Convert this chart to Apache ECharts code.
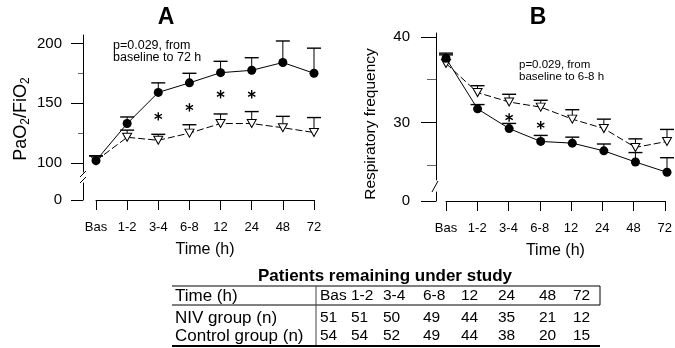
<!DOCTYPE html>
<html><head><meta charset="utf-8">
<script src="https://cdn.jsdelivr.net/npm/echarts@6/dist/echarts.min.js"></script>
<style>html,body{margin:0;padding:0;background:#fff}#c{width:675px;height:348px}</style>
</head><body><div id="c"></div>
<script>
// ---- data ----
const categories = ['Bas', '1-2', '3-4', '6-8', '12', '24', '48', '72'];
const pfNIV = [102, 133, 159, 167, 175.5, 177.5, 184, 175];
const pfNIVUpper = [106, 138.5, 167, 175, 185, 188, 202, 196];
const pfControl = [102, 121.5, 119, 125, 133, 133, 129.5, 125.5];
const pfControlUpper = [106, 127.5, 124, 132, 141, 143, 139, 138];
const pfStars = [null, null, 139, 146.5, 157.5, 157.5, null, null];
const rrNIV = [37.5, 31.6, 29.3, 27.8, 27.6, 26.7, 25.4, 24.2];
const rrNIVUpper = [38.1, 32.1, 29.9, 28.5, 28.3, 27.5, 26.5, 25.9];
const rrControl = [36.9, 33.5, 32.4, 31.8, 30.4, 29.3, 27.1, 27.8];
const rrControlUpper = [37.9, 34.3, 33.3, 32.6, 31.5, 30.4, 28.1, 29.2];
const rrStars = [null, null, 30.6, 29.7, null, null, null, null];
const pfTicks = [100, 150, 200];
const pfMinorTicks = [125, 175];
const rrTicks = [30, 40];
const rrMinorTicks = [25, 35];
const zeroTick = [0];
const titleA = 'A';
const titleB = 'B';
const xName = 'Time (h)';
const pfName = 'PaO{s|2}/FiO{s|2}';
const rrName = 'Respiratory frequency';
const noteA = ['p=0.029, from', 'baseline to 72 h'];
const noteB = ['p=0.029, from', 'baseline to 6-8 h'];
const tableTitle = 'Patients remaining under study';
const tableRowLabels = ['Time (h)', 'NIV group (n)', 'Control group (n)'];
const nivCounts = [51, 51, 50, 49, 44, 35, 21, 12];
const controlCounts = [54, 54, 52, 49, 44, 38, 20, 15];

// ---- layout ----
const FF = '"Liberation Sans", Arial, Helvetica, sans-serif';
const A = {left: 96, width: 218, top: 35, upH: 137, lowTop: 183, lowH: 17, yOff: 13, min: 92.5, max: 207, tick: 12, minor: 5, lblMargin: 21};
const B = {left: 446, width: 221, top: 33, upH: 147, lowTop: 192, lowH: 9, yOff: 10, min: 23.3, max: 40.45, tick: 15, minor: 9, lblMargin: 26};

const chart = echarts.init(document.getElementById('c'), null, {renderer: 'canvas'});

function errBar(params, api) {
  const x = api.value(0);
  const p0 = api.coord([x, api.value(1)]);
  const p1 = api.coord([x, api.value(2)]);
  const hw = 7;
  return {type: 'group', children: [
    {type: 'line', shape: {x1: p0[0], y1: p0[1], x2: p1[0], y2: p1[1]}, style: {stroke: '#000', lineWidth: 1}},
    {type: 'line', shape: {x1: p1[0] - hw, y1: p1[1], x2: p1[0] + hw, y2: p1[1]}, style: {stroke: '#000', lineWidth: 1.4}}
  ]};
}
function star(params, api) {
  const c = api.coord([api.value(0), api.value(1)]);
  const r = 4.2, ch = [];
  [90, 30, 150].forEach(function (d) {
    const a = d * Math.PI / 180;
    ch.push({type: 'line', shape: {x1: c[0] - r * Math.cos(a), y1: c[1] - r * Math.sin(a), x2: c[0] + r * Math.cos(a), y2: c[1] + r * Math.sin(a)}, style: {stroke: '#000', lineWidth: 1.4}});
  });
  return {type: 'group', children: ch};
}
function barData(lo, hi) { return categories.map(function (c, i) { return [i, lo[i], hi[i]]; }); }
function starData(s) { const d = []; s.forEach(function (v, i) { if (v != null) d.push([i, v]); }); return d; }

function grids(P) {
  return [
    {left: P.left, top: P.top, width: P.width, height: P.upH},
    {left: P.left, top: P.lowTop, width: P.width, height: P.lowH}
  ];
}
function xAxes(P, g) {
  return [
    {gridIndex: g, type: 'category', data: categories, boundaryGap: false, show: false},
    {gridIndex: g + 1, type: 'category', data: categories, boundaryGap: false,
      axisLine: {show: true, onZero: false, lineStyle: {color: '#000', width: 1}},
      axisTick: {show: true, interval: 0, length: 10, lineStyle: {color: '#000'}},
      axisLabel: {interval: 0, margin: 21, fontSize: 13, color: '#000', fontFamily: FF},
      name: xName, nameLocation: 'middle', nameGap: 42,
      nameTextStyle: {fontSize: 16, color: '#000', fontFamily: FF}}
  ];
}
function yAxes(P, g, ticks, minors) {
  return [
    {gridIndex: g, type: 'value', position: 'left', offset: P.yOff, min: P.min, max: P.max,
      axisLine: {show: true, lineStyle: {color: '#000'}},
      axisTick: {show: true, length: P.tick, customValues: ticks, lineStyle: {color: '#000'}},
      axisLabel: {customValues: ticks, margin: P.lblMargin, fontSize: 15, color: '#000', fontFamily: FF},
      splitLine: {show: false}},
    {gridIndex: g, type: 'value', position: 'left', offset: P.yOff, min: P.min, max: P.max,
      axisLine: {show: false},
      axisTick: {show: true, length: P.minor, customValues: minors, lineStyle: {color: '#666'}},
      axisLabel: {show: false}, splitLine: {show: false}},
    {gridIndex: g + 1, type: 'value', position: 'left', offset: P.yOff, min: 0, max: 10,
      axisLine: {show: true, lineStyle: {color: '#000'}},
      axisTick: {show: true, length: P.tick, customValues: zeroTick, lineStyle: {color: '#000'}},
      axisLabel: {customValues: zeroTick, margin: P.lblMargin, fontSize: 15, color: '#000', fontFamily: FF},
      splitLine: {show: false}}
  ];
}
function panelSeries(xi, yi, niv, nivUp, ctl, ctlUp, stars) {
  return [
    {type: 'custom', xAxisIndex: xi, yAxisIndex: yi, renderItem: errBar, data: barData(ctl, ctlUp), z: 2, clip: false},
    {type: 'custom', xAxisIndex: xi, yAxisIndex: yi, renderItem: errBar, data: barData(niv, nivUp), z: 2, clip: false},
    {type: 'line', xAxisIndex: xi, yAxisIndex: yi, data: ctl, symbol: 'triangle', symbolRotate: 180, symbolSize: [9, 8],
      itemStyle: {color: '#fff', borderColor: '#000', borderWidth: 1}, lineStyle: {color: '#000', width: 1, type: [7, 3]}, z: 3},
    {type: 'line', xAxisIndex: xi, yAxisIndex: yi, data: niv, symbol: 'circle', symbolSize: 9,
      itemStyle: {color: '#000', borderColor: '#000', borderWidth: 0}, lineStyle: {color: '#000', width: 1}, z: 4},
    {type: 'custom', xAxisIndex: xi, yAxisIndex: yi, renderItem: star, data: starData(stars), z: 5}
  ];
}

// ---- graphic (titles, names, notes, breaks, table) ----
const g = [];
function txt(x, y, text, size, opt) {
  g.push(Object.assign({type: 'text', x: x, y: y, silent: true,
    style: Object.assign({text: text, fontSize: size, fontFamily: FF, fill: '#000', align: 'left', verticalAlign: 'middle'}, opt && opt.style)},
    opt && opt.el));
}
function ln(x1, y1, x2, y2, w, col) {
  g.push({type: 'line', silent: true, shape: {x1: x1, y1: y1, x2: x2, y2: y2}, style: {stroke: col || '#000', lineWidth: w || 1}});
}
txt(166, 18, titleA, 23, {style: {fontWeight: 'bold', align: 'center'}});
txt(538, 18, titleB, 23, {style: {fontWeight: 'bold', align: 'center'}});
txt(21, 119, pfName, 18, {el: {rotation: Math.PI / 2}, style: {align: 'center', lineHeight: 22,
  rich: {s: {fontSize: 12, fontFamily: FF, lineHeight: 22, verticalAlign: 'bottom'}}}});
txt(371, 124, rrName, 15.5, {el: {rotation: Math.PI / 2}, style: {align: 'center'}});
noteA.forEach(function (t, i) { txt(113, 45.5 + i * 12, t, 12.5); });
noteB.forEach(function (t, i) { txt(519, 65 + i * 12, t, 11.5); });
// axis breaks
const axA = A.left - A.yOff, axB = B.left - B.yOff;
ln(axA - 3, 177, axA + 3, 171, 1);
ln(axA - 3, 183, axA + 3, 177, 1);
ln(axB - 4, 192, axB + 2, 181, 1);
// table
const tL = 172, tR = 600, tDiv = 316;
const tTop = 286, tHead = 305, tBot = 346;
const rowY = [296, 318, 336];
const colX = [320, 351, 383, 423, 461, 498, 539, 573];
txt((tL + tR) / 2 - 1, 276, tableTitle, 17, {style: {fontWeight: 'bold', align: 'center'}});
ln(tL, tTop, tR, tTop, 1);
ln(tL, tHead, tR, tHead, 1);
ln(tR, tTop, tR, tHead, 1);
ln(tDiv, tTop, tDiv, tBot, 1, '#444');
ln(tL, tBot, tR, tBot, 2);
tableRowLabels.forEach(function (t, i) { txt(175, rowY[i], t, 17); });
[categories, nivCounts, controlCounts].forEach(function (row, r) {
  row.forEach(function (v, c) { txt(colX[c], rowY[r], String(v), 15.5); });
});

chart.setOption({
  animation: false,
  backgroundColor: '#fff',
  textStyle: {fontFamily: FF},
  grid: grids(A).concat(grids(B)),
  xAxis: xAxes(A, 0).concat(xAxes(B, 2)),
  yAxis: yAxes(A, 0, pfTicks, pfMinorTicks).concat(yAxes(B, 2, rrTicks, rrMinorTicks)),
  series: panelSeries(0, 0, pfNIV, pfNIVUpper, pfControl, pfControlUpper, pfStars)
    .concat(panelSeries(2, 3, rrNIV, rrNIVUpper, rrControl, rrControlUpper, rrStars)),
  graphic: g
});
</script>
</body></html>
